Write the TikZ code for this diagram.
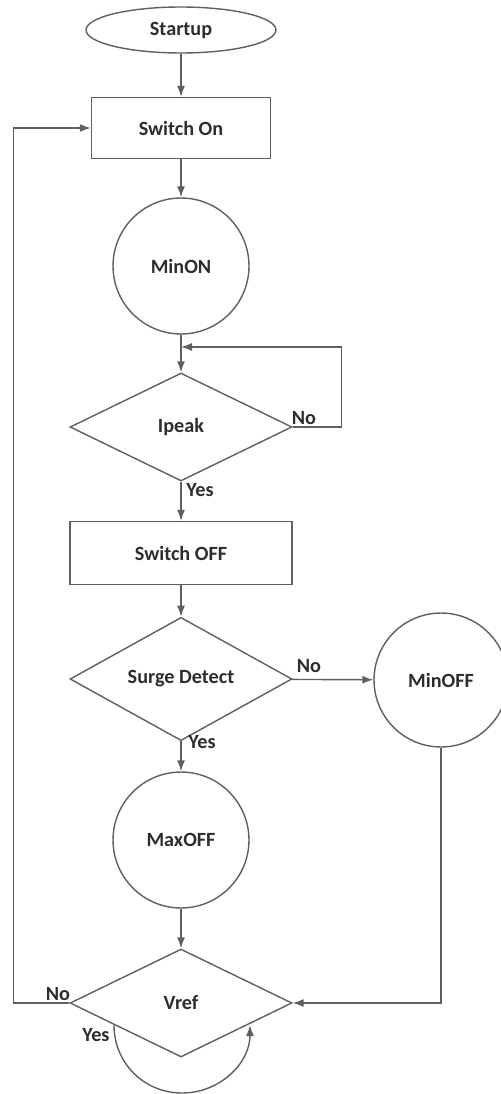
\documentclass[tikz,border=0pt]{standalone}
\usepackage{fontspec}
\setmainfont{Carlito}
\usetikzlibrary{shapes.geometric,arrows.meta,calc}
\definecolor{linegray}{RGB}{95,95,95}
\definecolor{inkgray}{RGB}{45,45,45}
\begin{document}
\begin{tikzpicture}[x=0.02cm,y=-0.02cm,
  every node/.style={font=\fontsize{11.5}{13}\selectfont\bfseries, text=inkgray},
  box/.style={draw=linegray, line width=0.8pt, rectangle, inner sep=0pt},
  roundbox/.style={draw=linegray, line width=0.8pt, circle, inner sep=0pt, minimum size=2.72cm},
  decision/.style={draw=linegray, line width=0.8pt, diamond, inner sep=0pt, minimum width=4.44cm, minimum height=2.16cm},
  terminal/.style={draw=linegray, line width=0.8pt, ellipse, inner sep=0pt, minimum width=3.8cm, minimum height=0.92cm},
  flow/.style={draw=linegray, line width=0.8pt, -{Latex[length=2.2mm,width=1.6mm]}},
  tag/.style={inner sep=0pt}
]
\useasboundingbox (0,0) rectangle (500,1094);

% process chain
\node[terminal] (start) at (181,30) {Startup};
\node[box, minimum width=3.58cm, minimum height=1.22cm] (on) at (181,128) {Switch On};
\node[roundbox] (minon) at (181,266) {MinON};
\node[decision] (ipeak) at (181,427) {Ipeak};
\node[box, minimum width=4.44cm, minimum height=1.26cm] (off) at (181,553) {Switch OFF};
\node[decision] (surge) at (181,679) {Surge Detect};
\node[roundbox, minimum size=2.68cm] (minoff) at (441,680) {MinOFF};
\node[roundbox] (maxoff) at (181,840) {MaxOFF};
\node[decision] (vref) at (181,1003) {Vref};

% straight flow
\draw[flow] (start) -- (on);
\draw[flow] (on) -- (minon);
\draw[flow] (minon) -- (ipeak);
\draw[flow] (ipeak) -- (off);
\draw[flow] (off) -- (surge);
\draw[flow] (surge) -- (minoff);
\draw[flow] (surge) -- (maxoff);
\draw[flow] (maxoff) -- (vref);

% Ipeak "No" loop back above the diamond
\coordinate (ipeakin) at (181,347);
\draw[flow] (ipeak.east) -- ++(49,0) |- (ipeakin);

% MinOFF back into Vref
\draw[flow] (minoff.south) |- (vref.east);

% Vref "No" back to Switch On
\draw[flow] (vref.west) -- ++(-56,0) |- (on.west);

% Vref "Yes" self loop under the diamond
\coordinate (yesl) at (114,1025);
\coordinate (yesr) at (250,1025);
\draw[flow] (yesl) .. controls (114,1063) and (144,1093) .. (182,1093)
                   .. controls (220,1093) and (250,1063) .. (yesr);

% branch labels
\node[tag] (n1) at (304,418) {No};
\node[tag] (y1) at (200,490) {Yes};
\node[tag] (n2) at (309,666) {No};
\node[tag] (y2) at (202,742) {Yes};
\node[tag] (n3) at (58,994) {No};
\node[tag] (y3) at (96,1035) {Yes};
\end{tikzpicture}
\end{document}
